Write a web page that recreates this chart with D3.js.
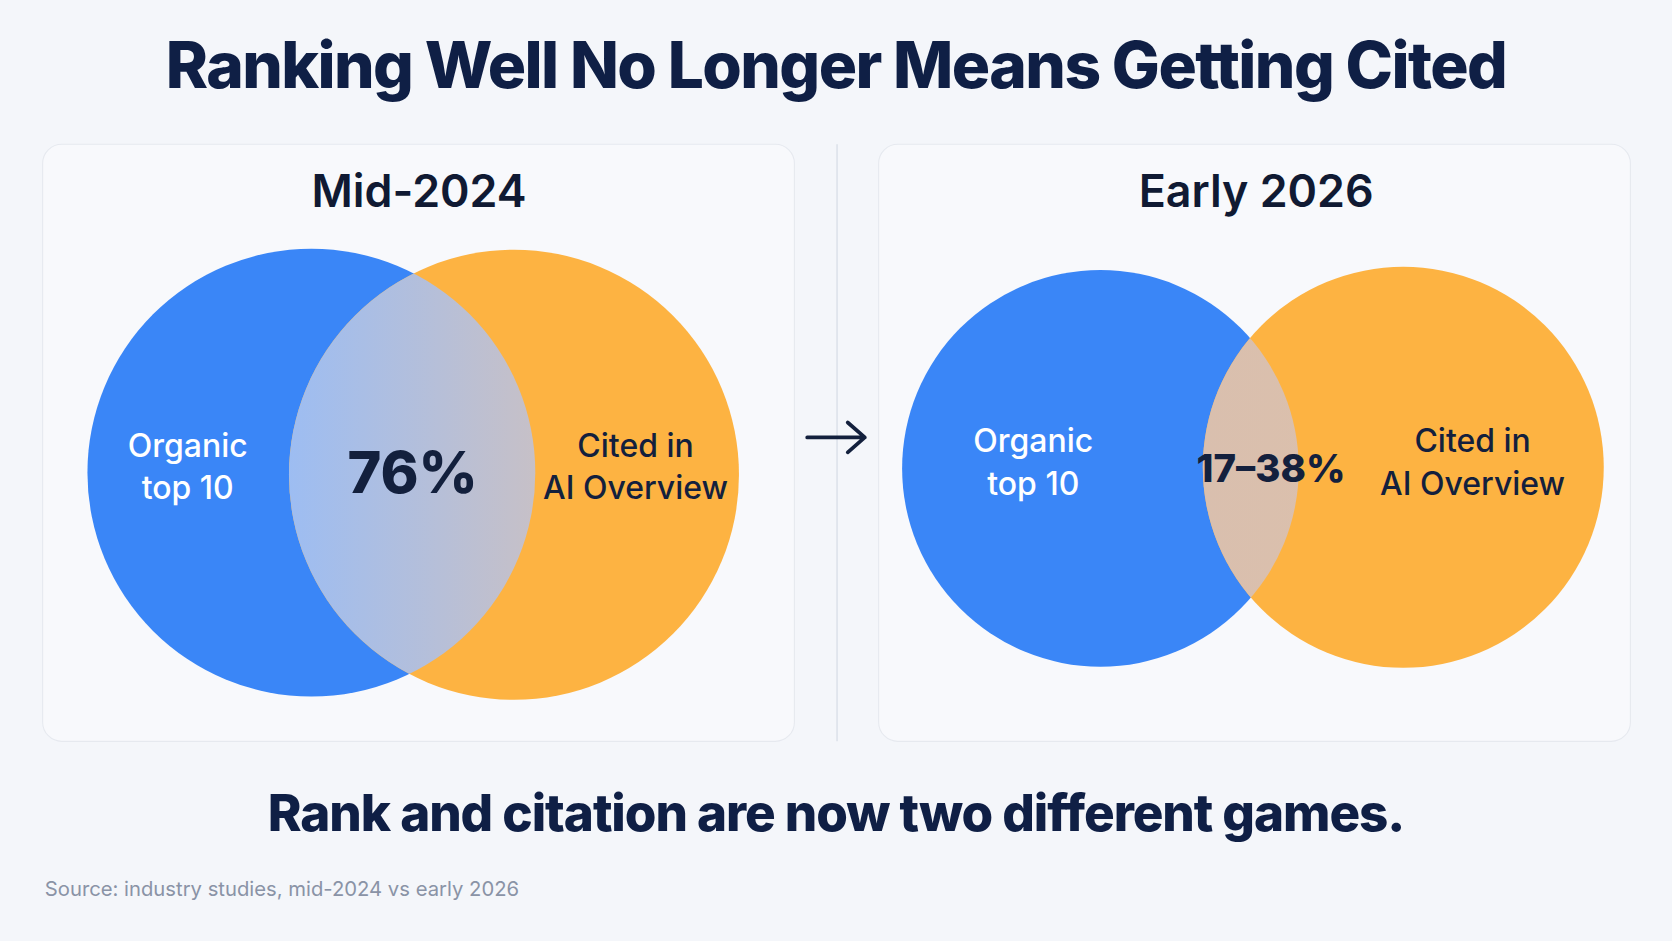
<!DOCTYPE html>
<html><head><meta charset="utf-8">
<script src="https://cdn.jsdelivr.net/npm/d3@7"></script>
<style>
body{margin:0;background:#f4f6fa;font-family:Inter,"Noto Sans",sans-serif;}
</style></head>
<body><div id="chart"></div>
<script>
const periods = ["Mid-2024", "Early 2026"];
const overlapLabels = ["76%", "17–38%"];
const setA = ["Organic", "top 10"];
const setB = ["Cited in", "AI Overview"];
const title = "Ranking Well No Longer Means Getting Cited";
const subtitle = "Rank and citation are now two different games.";
const source = "Source: industry studies, mid-2024 vs early 2026";

// layout (in a 1568x882 design space)
const W = 1568, H = 882;
const panels = [
  {x: 40, cx: 393, a: {x: 292, y: 443, r: 210}, b: {x: 482, y: 445, r: 211},
   la: 176, lb: 596, lo: 387, fo: 54, ov: ["#9dbdf2", "#e9c3a4"]},
  {x: 824, cx: 1178, a: {x: 1032, y: 439, r: 186}, b: {x: 1316, y: 438, r: 188},
   la: 969, lb: 1381, lo: 1192, fo: 36, ov: ["#d9bfae", "#dfc1a8"]}
];

const svg = d3.select("#chart").append("svg")
  .attr("width", 1672).attr("height", 941)
  .attr("viewBox", `0 0 ${W} ${H}`);
svg.append("rect").attr("width", W).attr("height", H).attr("fill", "#f4f6fa");
const defs = svg.append("defs");

svg.append("text").attr("x", W / 2).attr("y", 82).attr("text-anchor", "middle")
  .attr("font-size", 60).attr("font-weight", 800).attr("letter-spacing", -1.5)
  .attr("fill", "#0f1f45").text(title);

svg.append("line").attr("x1", 785).attr("x2", 785).attr("y1", 135).attr("y2", 695)
  .attr("stroke", "#dde2ea").attr("stroke-width", 1.5);

panels.forEach((p, i) => {
  const g = svg.append("g");
  g.append("rect").attr("x", p.x).attr("y", 135).attr("width", 705).attr("height", 560)
    .attr("rx", 18).attr("fill", "#f8f9fc").attr("stroke", "#e6e9ef");
  g.append("text").attr("x", p.cx).attr("y", 194).attr("text-anchor", "middle")
    .attr("font-size", 42).attr("font-weight", 600).attr("fill", "#101a33").text(periods[i]);

  g.append("circle").attr("cx", p.a.x).attr("cy", p.a.y).attr("r", p.a.r).attr("fill", "#3a86f7");
  g.append("circle").attr("cx", p.b.x).attr("cy", p.b.y).attr("r", p.b.r).attr("fill", "#fdb342");

  defs.append("clipPath").attr("id", "clip" + i).append("circle")
    .attr("cx", p.a.x).attr("cy", p.a.y).attr("r", p.a.r);
  const grad = defs.append("linearGradient").attr("id", "ov" + i);
  grad.append("stop").attr("offset", "0%").attr("stop-color", p.ov[0]);
  grad.append("stop").attr("offset", "100%").attr("stop-color", p.ov[1]);
  g.append("circle").attr("clip-path", `url(#clip${i})`)
    .attr("cx", p.b.x).attr("cy", p.b.y).attr("r", p.b.r).attr("fill", `url(#ov${i})`);

  const lab = (x, lines, color) => lines.forEach((t, k) =>
    g.append("text").attr("x", x).attr("y", p.a.y - 15 + k * 40).attr("text-anchor", "middle")
      .attr("font-size", 30).attr("font-weight", 500).attr("fill", color).text(t));
  lab(p.la, setA, "#ffffff");
  lab(p.lb, setB, "#13203d");
  g.append("text").attr("x", p.lo).attr("y", p.a.y).attr("dy", "0.36em").attr("text-anchor", "middle")
    .attr("font-size", p.fo).attr("font-weight", 800).attr("fill", "#13203d").text(overlapLabels[i]);
});

// arrow between panels
svg.append("path").attr("d", "M757,410 H811 M795,396 L811,410 L795,424")
  .attr("fill", "none").attr("stroke", "#13203d").attr("stroke-width", 3.5)
  .attr("stroke-linecap", "round").attr("stroke-linejoin", "round");

svg.append("text").attr("x", W / 2).attr("y", 779).attr("text-anchor", "middle")
  .attr("font-size", 48).attr("font-weight", 800).attr("letter-spacing", -1)
  .attr("fill", "#0f1f45").text(subtitle);

svg.append("text").attr("x", 42).attr("y", 840)
  .attr("font-size", 19).attr("fill", "#8a93a6").text(source);
</script></body></html>
